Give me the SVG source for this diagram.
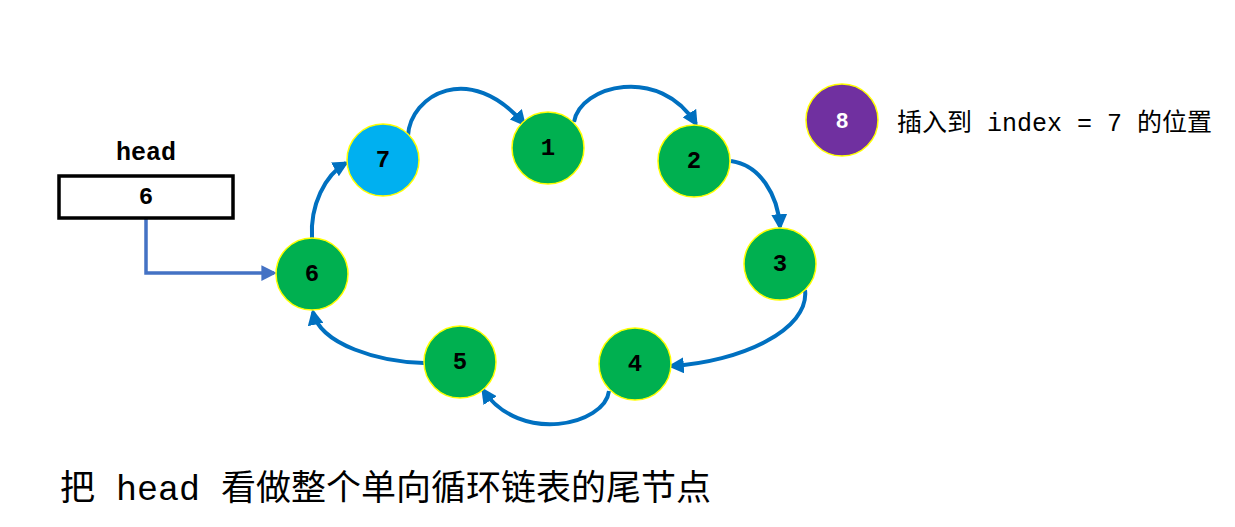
<svg xmlns="http://www.w3.org/2000/svg" width="1235" height="527" viewBox="0 0 1235 527">
<style>
.node{stroke:#FFFF00;stroke-width:1.5}
.g{fill:#00B050}
.lbl{font-family:"Liberation Mono","DejaVu Sans Mono",monospace;font-weight:bold;font-size:24px;text-anchor:middle;dominant-baseline:central;fill:#000}
.big{font-size:25px}
.w{fill:#fff;font-family:"Liberation Sans",Arial,sans-serif;font-size:22px}
.arc{fill:none;stroke:#0070C0;stroke-width:4}
.cjk{font-family:"Liberation Mono","Noto Sans CJK SC",monospace;fill:#000}
</style>
<defs>
<marker id="ah" viewBox="0 0 10 10" refX="8" refY="5" markerWidth="4" markerHeight="4" orient="auto" markerUnits="strokeWidth">
<path d="M0,0 L10,5 L0,10 z" fill="#0070C0"/>
</marker>
<marker id="ah2" viewBox="0 0 10 10" refX="8" refY="5" markerWidth="4.5" markerHeight="4.5" orient="auto" markerUnits="strokeWidth">
<path d="M0,0 L10,5 L0,10 z" fill="#4472C4"/>
</marker>
</defs>
<rect width="1235" height="527" fill="#fff"/>
<g id="connectors">
<path class="arc" d="M408,136 C410,95 470,60 524,124" marker-end="url(#ah)"/>
<path class="arc" d="M574,122 C580,85 660,65 696,124" marker-end="url(#ah)"/>
<path class="arc" d="M731,161 C760,165 778,195 780,227" marker-end="url(#ah)"/>
<path class="arc" d="M805,290 C810,330 740,362 671,366" marker-end="url(#ah)"/>
<path class="arc" d="M609,391 C605,425 520,445 483,390" marker-end="url(#ah)"/>
<path class="arc" d="M424,363 C380,362 320,345 313,312" marker-end="url(#ah)"/>
<path class="arc" d="M312,238 C310,205 325,175 346,163" marker-end="url(#ah)"/>
<path d="M146,219 V273 H274" fill="none" stroke="#4472C4" stroke-width="3.5" marker-end="url(#ah2)"/>
</g>
<g id="head">
<text x="146" y="153" class="lbl big">head</text>
<rect x="59" y="176" width="174" height="42" fill="#fff" stroke="#000" stroke-width="3.5"/>
<text x="146" y="197" class="lbl">6</text>
</g>
<g id="n7"><circle cx="383" cy="160" r="36" class="node" fill="#00B0F0"/><text x="383" y="160" class="lbl">7</text></g>
<g id="n1"><circle cx="548" cy="148" r="36" class="node g"/><text x="548" y="148" class="lbl">1</text></g>
<g id="n2"><circle cx="694" cy="161" r="36" class="node g"/><text x="694" y="161" class="lbl">2</text></g>
<g id="n3"><circle cx="780" cy="264" r="36" class="node g"/><text x="780" y="264" class="lbl">3</text></g>
<g id="n4"><circle cx="635" cy="364" r="36" class="node g"/><text x="635" y="364" class="lbl">4</text></g>
<g id="n5"><circle cx="460" cy="362" r="36" class="node g"/><text x="460" y="362" class="lbl">5</text></g>
<g id="n6"><circle cx="312" cy="274" r="36" class="node g"/><text x="312" y="274" class="lbl">6</text></g>
<g id="n8"><circle cx="842" cy="120" r="36" class="node" fill="#7030A0"/><text x="842" y="120" class="lbl w">8</text></g>
<g id="note"><text x="897" y="131" class="cjk" font-size="25">插入到 index = 7 的位置</text></g>
<g id="caption"><text x="60" y="500" class="cjk" font-size="35">把 head 看做整个单向循环链表的尾节点</text></g>
</svg>
